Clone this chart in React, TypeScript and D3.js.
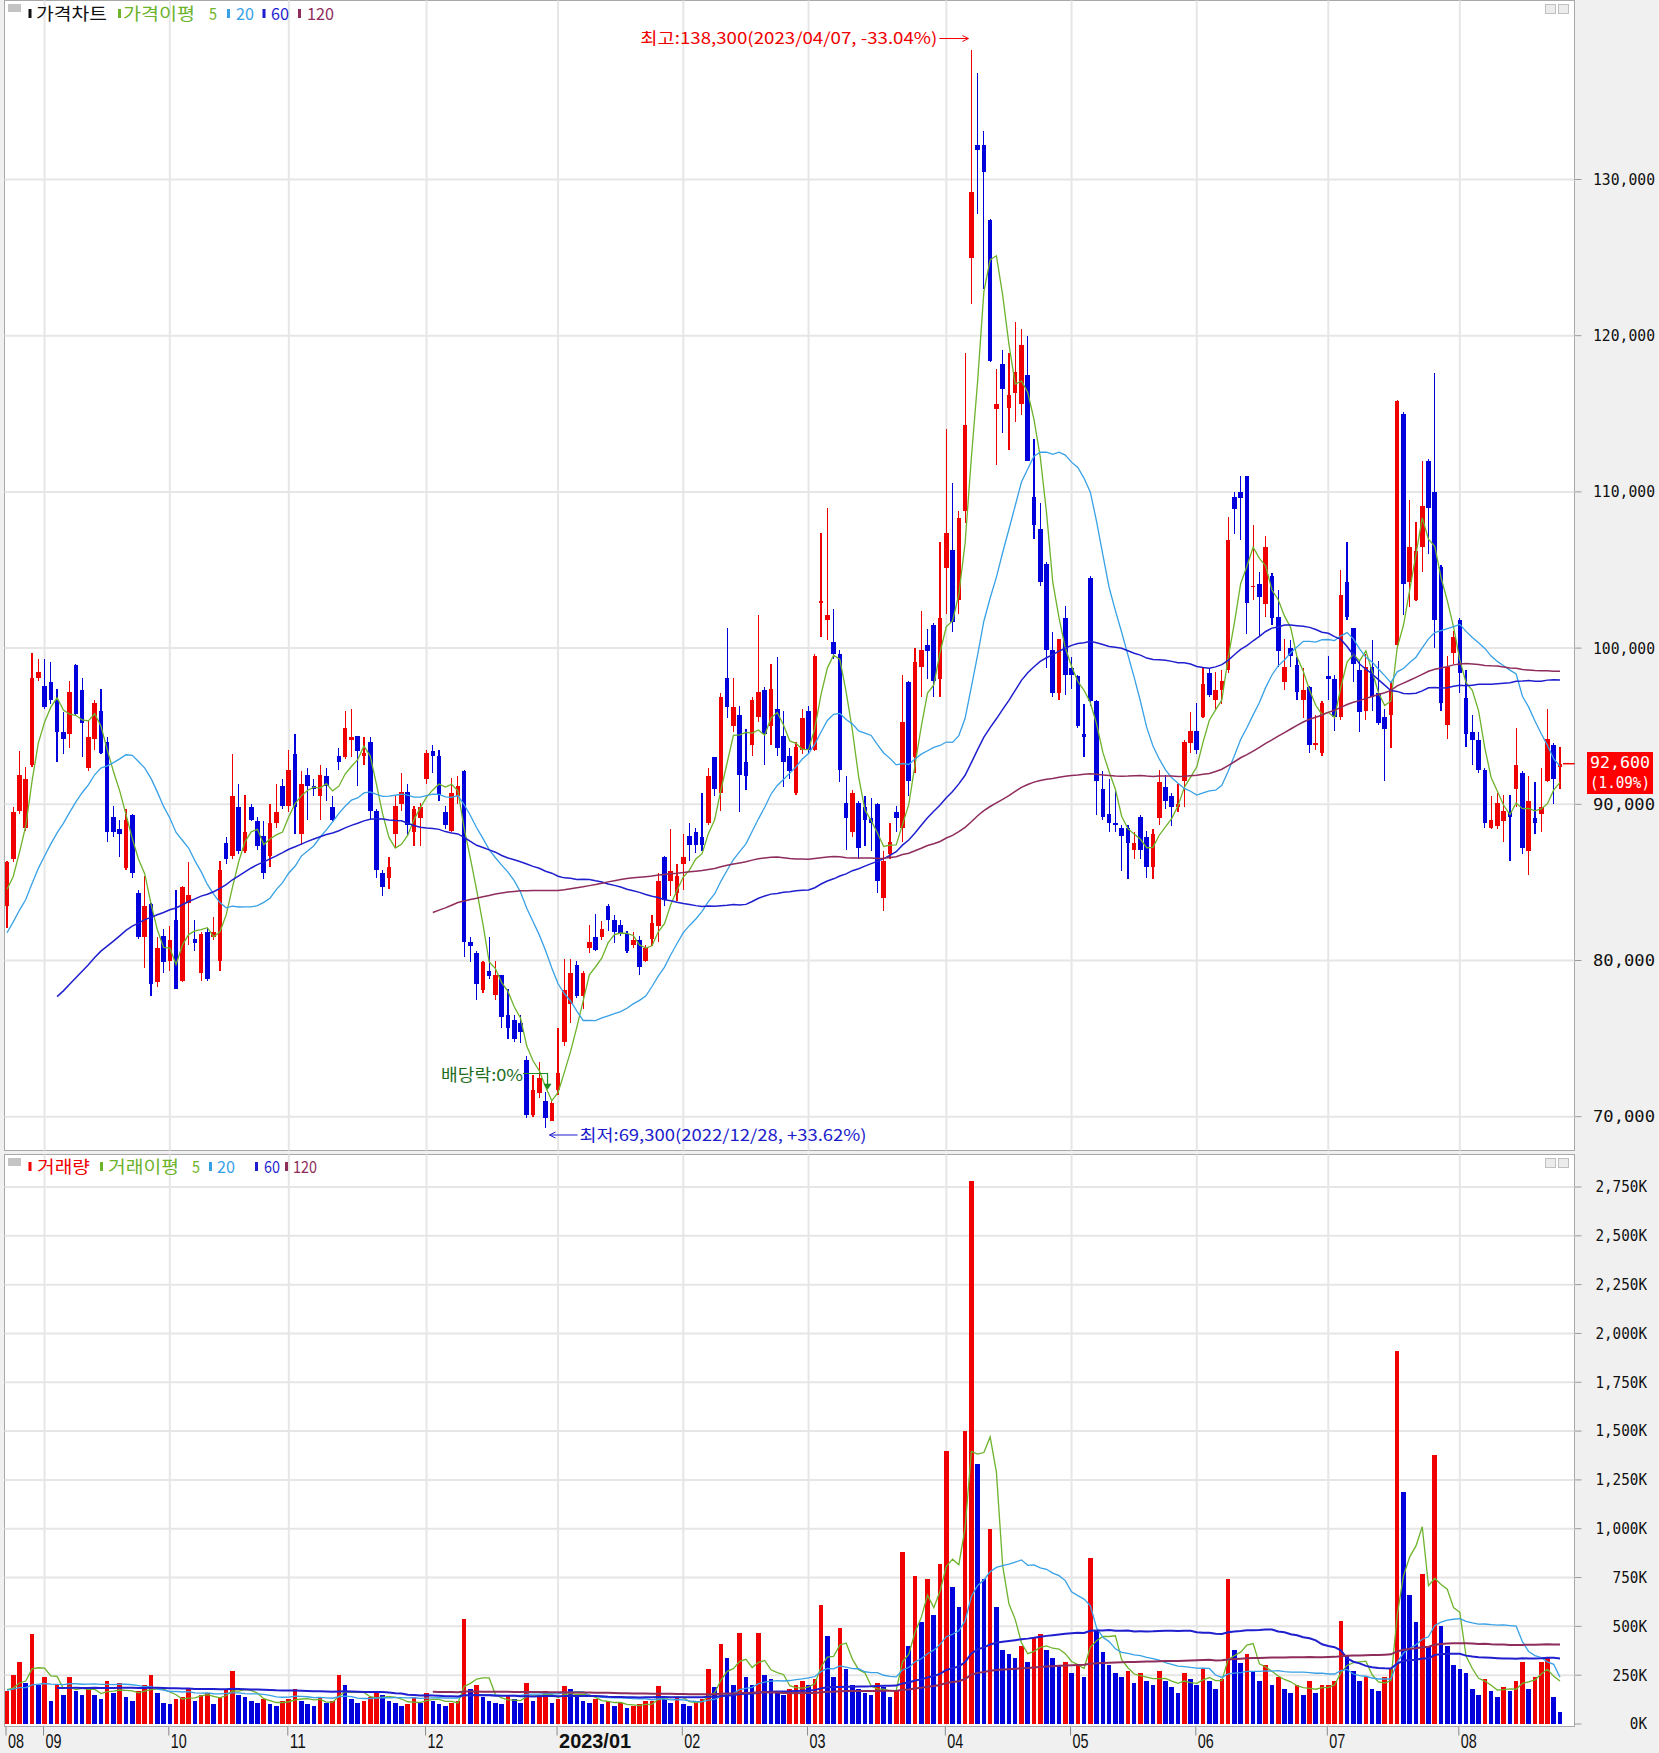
import React from 'react';
import * as d3 from 'd3';

// ---------------- DATA ----------------
// closes of the 51 sessions before the visible window (needed for MA60 / MA120)
const priorCloses = [
  72000, 71500, 70800, 70200, 69500, 69000, 68700, 69200, 68500, 67900, 68300, 69000, 69800, 70300, 69900, 70500,
  71200, 70800, 71500, 72200, 71800, 71300, 70900, 71600, 72300, 72800, 72100, 71700, 72400, 73000, 73600, 74200,
  75500, 76800, 78200, 77600, 79000, 80400, 81200, 80500, 82000, 83100, 82400, 83500, 84200, 83600, 84800, 85300,
  84100, 83200, 83800,
];
const priorVolumes = [
  150, 180, 130, 210, 160, 140, 190, 220, 170, 130, 150, 120, 200, 240, 180, 160, 140, 190, 170, 150, 210, 260, 180,
  150, 130, 170, 160, 140, 200, 230, 190, 160, 150, 180, 210, 170, 140, 160, 190, 220, 180, 150, 170, 200, 160, 140,
  180, 210, 190, 160, 150,
];

// [open, high, low, close]
const aug22 = [
  [83500, 86400, 82100, 86300], [86500, 89800, 86300, 89500], [89600, 93400, 89400, 91900], [88500, 92400, 88300, 91600],
  [92500, 99700, 92400, 98100], [98100, 99300, 97900, 98500],
];
const sep22 = [
  [97600, 99300, 96100, 96200], [97800, 99100, 96400, 96700], [96700, 97400, 92700, 94600], [94600, 95900, 93200, 94200],
  [94500, 97900, 93600, 97200], [98900, 99000, 95700, 95800], [97300, 98100, 93000, 95200], [92300, 95400, 92100, 94300],
  [94200, 96700, 93500, 96500], [96000, 97400, 93200, 93300], [94000, 94300, 87600, 88200], [89200, 89900, 87900, 88200],
  [88400, 89000, 86600, 88100], [85900, 89700, 85800, 89000], [89300, 89400, 85300, 85600], [84300, 84500, 81400, 81500],
  [81500, 85400, 79500, 83500], [83600, 83700, 77700, 78500], [78600, 81500, 78300, 80800], [81600, 82000, 79200, 79900],
];
const oct22 = [
  [80000, 82200, 79300, 81300], [82600, 84500, 78200, 78200], [78700, 84800, 78600, 84700], [83700, 86300, 81000, 84200],
  [81400, 82600, 80600, 81100], [79200, 81800, 78700, 81700], [81800, 82100, 78700, 78800], [81500, 82800, 81300, 81800],
  [80000, 86400, 79300, 85800], [87500, 87900, 86200, 86500], [86700, 93200, 86500, 90500], [89800, 91300, 86800, 87000],
  [87000, 90600, 86900, 88200], [89800, 90000, 88900, 89000], [88900, 89200, 87100, 87300], [88000, 88900, 85200, 85600],
  [86700, 90000, 86000, 88800], [88800, 91300, 88500, 89500], [91200, 91600, 89700, 89900],
];
const nov22 = [
  [89900, 93500, 89500, 92200], [93200, 94500, 88100, 89800], [88100, 92100, 87400, 91300], [91900, 92300, 89000, 91200],
  [91200, 91600, 90500, 91000], [90500, 92500, 89000, 91900], [91800, 92300, 90200, 91200], [89800, 90500, 88900, 89000],
  [93100, 93600, 92200, 92700], [93000, 96000, 92900, 94900], [94100, 96100, 93000, 94300], [94400, 94400, 91200, 93400],
  [93100, 94300, 92500, 93300], [94000, 94300, 89000, 89600], [89600, 89700, 85300, 85800], [85600, 85800, 84100, 84700],
  [85300, 86600, 84600, 86000], [88100, 90500, 87200, 89900], [90000, 92000, 89600, 90800], [90800, 91300, 88000, 88700],
  [88200, 89900, 87300, 89700], [89100, 90100, 87300, 89800],
];
const dec22 = [
  [91600, 93500, 91300, 93300], [93400, 93800, 92000, 93100], [93100, 93500, 90200, 90600], [89500, 89900, 88400, 88700],
  [88300, 91700, 88200, 90700], [90500, 91800, 90000, 91200], [92100, 92200, 80200, 81200], [81200, 81500, 79900, 80900],
  [80500, 80600, 77500, 78500], [78100, 80000, 77900, 79900], [79300, 81500, 78800, 79000], [77800, 80000, 77500, 79100],
  [79100, 79100, 75700, 76400], [76500, 78200, 75000, 75700], [76200, 76500, 74800, 75000], [76000, 76500, 74700, 75400],
  [73600, 73900, 69900, 70100], [70100, 72700, 70000, 71700], [71500, 73500, 71200, 72500], [71000, 71600, 69300, 69900],
  [69700, 71000, 69700, 70900],
];
const jan23 = [
  [71700, 75700, 71400, 72800], [74800, 80100, 74500, 78100], [77200, 80100, 76000, 79200], [79700, 80000, 77600, 77700],
  [77700, 79300, 76900, 79200], [80800, 82300, 80500, 81200], [81500, 83000, 80600, 80700], [81500, 82500, 81300, 82000],
  [83500, 83600, 81900, 82600], [82600, 82900, 81100, 81800], [82300, 82600, 81600, 81700], [81700, 81900, 80500, 80600],
  [81000, 81800, 80800, 81300], [81300, 81600, 79100, 79600], [80000, 81000, 79900, 80800], [81400, 82900, 80900, 82400],
  [82200, 85600, 81200, 85100], [86600, 86700, 83500, 83900], [85100, 88400, 84100, 85700], [84300, 86200, 83800, 85400],
];
const feb23 = [
  [86200, 88100, 84500, 86600], [88000, 88800, 86400, 87400], [88200, 88500, 86900, 87400], [87900, 90700, 87000, 87400],
  [88800, 92300, 88700, 91800], [93000, 93000, 90500, 91000], [90700, 97100, 89600, 96900], [98100, 101300, 95500, 96200],
  [95000, 98100, 94600, 96200], [95700, 96300, 89500, 91900], [92700, 94800, 90900, 91800], [93800, 96900, 93100, 96700],
  [95600, 102100, 95300, 97200], [97300, 97500, 92500, 94500], [95000, 99000, 93800, 97400], [96100, 99400, 93100, 93600],
  [94400, 96000, 91100, 92700], [93100, 93600, 91600, 92100], [90700, 94000, 90600, 93700], [93500, 96100, 93200, 95500],
];
const mar23 = [
  [96000, 96300, 93300, 93500], [93500, 99600, 93400, 99500], [102900, 107400, 100700, 103000], [101800, 109000, 100500, 102100],
  [100400, 102500, 99300, 99600], [99600, 99900, 91400, 92200], [90100, 91800, 87100, 89100], [88200, 90900, 87900, 90700],
  [90100, 90200, 86500, 87200], [89800, 90500, 87300, 89000], [89100, 90400, 87000, 88800], [90000, 90100, 84300, 85100],
  [84000, 87000, 83200, 86400], [86800, 88800, 86500, 87600], [89500, 89900, 88200, 89100], [88500, 98300, 87600, 95300],
  [97800, 97900, 90500, 91500], [93000, 100000, 92000, 99100], [98800, 102400, 96900, 99900], [100200, 101200, 98000, 99800],
  [101500, 101600, 96900, 97900], [98000, 106800, 96900, 101900],
];
const apr23 = [
  [105100, 114000, 102200, 107400], [106300, 110600, 101000, 101700], [103100, 108800, 102200, 108300], [108800, 118900, 108000, 114300],
  [125000, 138300, 122000, 129200], [132200, 136800, 127800, 131900], [132200, 133100, 123000, 130500], [127400, 127500, 118300, 118400],
  [115300, 117900, 111700, 115600], [118200, 119100, 113800, 116600], [115400, 118900, 112700, 116200], [116300, 120900, 114500, 117700],
  [115600, 120400, 114900, 119400], [117500, 120000, 112000, 112000], [109700, 113400, 107000, 107900], [107600, 109300, 104000, 104200],
  [105400, 105500, 98700, 99900], [99900, 101000, 96900, 97100], [97100, 100600, 96700, 100600], [101900, 102700, 97000, 98300],
];
const may23 = [
  [98700, 99400, 97400, 98300], [98200, 98300, 94900, 95000], [94500, 96400, 93000, 94300], [104500, 104600, 96300, 96600],
  [96600, 96700, 89300, 91500], [91000, 92100, 89000, 89200], [89400, 91600, 88200, 88800], [88800, 91000, 88200, 88700],
  [88500, 88700, 85700, 88000], [88500, 88700, 85200, 87500], [87100, 88200, 86500, 87500], [89200, 89300, 86500, 87100],
  [87900, 88300, 85300, 86000], [86000, 88400, 85200, 88100], [89100, 92200, 88700, 91400], [91100, 91900, 89700, 90200],
  [90500, 90700, 88600, 89800], [89800, 91300, 89500, 90000], [91500, 94100, 89800, 94000], [93900, 95900, 93300, 94700],
];
const jun23 = [
  [94700, 96500, 93200, 93500], [95600, 98700, 95500, 97700], [98400, 98700, 96900, 97000], [96700, 98500, 96000, 97300],
  [97300, 98600, 96400, 97900], [98600, 108400, 98400, 106900], [109700, 110000, 107300, 108900], [110000, 111000, 106900, 109600],
  [111000, 111000, 100900, 102900], [103900, 107900, 103100, 104000], [104100, 104900, 100800, 103300], [102800, 107200, 102000, 106500],
  [104600, 104800, 101500, 101900], [102000, 103700, 98800, 99800], [97800, 100600, 97300, 98800], [100000, 100500, 98800, 99500],
  [98900, 99400, 96700, 97200], [96700, 98700, 95500, 97300], [97500, 97600, 93300, 93800], [93800, 95700, 93500, 93900],
  [93300, 96600, 93100, 96500],
];
const jul23 = [
  [98200, 99500, 96700, 98000], [98000, 98300, 94700, 95600], [95600, 105000, 95400, 103400], [104200, 106800, 101800, 102000],
  [101300, 101300, 97800, 99000], [98600, 99200, 94600, 95900], [96000, 99600, 95400, 98800], [98800, 100500, 96000, 96900],
  [97100, 99200, 95100, 95200], [95600, 96100, 91500, 94800], [95700, 97800, 93600, 97400], [100200, 115900, 100100, 115800],
  [115000, 115100, 102100, 104100], [104200, 109500, 102600, 106500], [103100, 108100, 103000, 106200], [106500, 112000, 104900, 109100],
  [112000, 112100, 106000, 109000], [110000, 117600, 100000, 101800], [105200, 105300, 96000, 96500], [95100, 99500, 94200, 98800],
  [99700, 101100, 99000, 100700],
];
const aug23 = [
  [101800, 101900, 97100, 98400], [96800, 98600, 93700, 94500], [94600, 95700, 92500, 94100], [94100, 94600, 92000, 92200],
  [92200, 92300, 88500, 88800], [88500, 90500, 88400, 89000], [88600, 90700, 88400, 90100], [88900, 90600, 87600, 89600],
  [89500, 90600, 86400, 89200], [91000, 94900, 89800, 92500], [92000, 92100, 86800, 87200], [87000, 91800, 85500, 90200],
  [89100, 91400, 88100, 88800], [89400, 92300, 88200, 89800], [91500, 96100, 91400, 94200], [93800, 93900, 90000, 91600],
  [92400, 93700, 91000, 92600],
];

// volume, thousands of shares
const volAug22 = [170, 250, 320, 210, 460, 200];
const volSep22 = [240, 120, 200, 150, 240, 170, 150, 180, 150, 130, 220, 160, 210, 140, 120, 170, 200, 250, 160, 110];
const volOct22 = [100, 130, 140, 180, 120, 150, 160, 100, 140, 180, 270, 150, 140, 120, 110, 130, 100, 90, 120];
const volNov22 = [130, 180, 120, 100, 90, 140, 110, 120, 250, 200, 130, 110, 120, 140, 170, 150, 120, 110, 90, 100, 140, 110];
const volDec22 = [160, 120, 100, 90, 110, 120, 540, 180, 200, 140, 120, 110, 100, 150, 130, 110, 210, 120, 150, 170, 110];
const volJan23 = [130, 195, 180, 140, 120, 110, 130, 100, 120, 90, 110, 80, 90, 100, 120, 120, 195, 130, 110, 140];
const volFeb23 = [100, 90, 110, 130, 280, 190, 410, 337, 200, 468, 240, 200, 468, 250, 230, 170, 150, 180, 200, 220];
const volMar23 = [200, 230, 611, 451, 240, 491, 280, 200, 180, 160, 150, 210, 190, 140, 170, 880, 400, 760, 520, 740, 560, 820];
const volApr23 = [1400, 700, 600, 1500, 2780, 1330, 740, 1000, 600, 380, 360, 340, 400, 320, 440, 460, 380, 340, 300, 320];
const volMay23 = [260, 300, 240, 850, 480, 370, 300, 260, 240, 270, 210, 260, 220, 200, 270, 220, 190, 160, 260, 230];
const volJun23 = [200, 280, 220, 180, 230, 740, 380, 310, 360, 270, 220, 300, 200, 240, 180, 160, 200, 150, 220, 160, 200];
const volJul23 = [200, 220, 530, 350, 270, 220, 240, 180, 170, 240, 280, 1910, 1190, 660, 520, 770, 400, 1380, 500, 400, 300];
const volAug23 = [280, 260, 180, 150, 230, 170, 140, 190, 170, 220, 320, 180, 240, 320, 340, 140, 60];

const monthLabels = ['08', '09', '10', '11', '12', '2023/01', '02', '03', '04', '05', '06', '07', '08'];
const priceTicks = [70000, 80000, 90000, 100000, 110000, 120000, 130000];
const volumeTicks = [0, 250, 500, 750, 1000, 1250, 1500, 1750, 2000, 2250, 2500, 2750];
const maPeriods = [5, 20, 60, 120];
const maColors = ['#6db32b', '#38a1e6', '#1f1fcf', '#8e2c5c'];

// ---------------- HELPERS ----------------
const months = [aug22, sep22, oct22, nov22, dec22, jan23, feb23, mar23, apr23, may23, jun23, jul23, aug23];
const candles = months.flat();
const volumes = [volAug22, volSep22, volOct22, volNov22, volDec22, volJan23, volFeb23, volMar23, volApr23, volMay23, volJun23, volJul23, volAug23].flat();
const monthStarts: number[] = [];
{
  let s = 0;
  months.forEach((m) => { monthStarts.push(s); s += m.length; });
}

function sma(all: number[], n: number, offset: number, count: number): (number | null)[] {
  const out: (number | null)[] = [];
  for (let i = 0; i < count; i++) {
    const end = offset + i;
    if (end + 1 < n) { out.push(null); continue; }
    let s = 0;
    for (let k = end - n + 1; k <= end; k++) s += all[k];
    out.push(s / n);
  }
  return out;
}

const RED = '#f00000';
const BLUE = '#0000dc';
const MONO = '"DejaVu Sans Mono", monospace';
const KR = '"Noto Sans CJK KR", "Noto Sans", sans-serif';

function T(props: any) {
  const { w, children, ...rest } = props;
  return <text {...rest} textLength={w} lengthAdjust="spacingAndGlyphs">{children}</text>;
}

export default function App() {
  const N = candles.length;
  const W = 1659, H = 1753;
  const plotL = 4.5, plotR = 1574.5;
  const pTop = 0.5, pBot = 1150.5;
  const vTop = 1154.5, vBot = 1726.5;

  const x = d3.scaleLinear().domain([0, N - 1]).range([7, 1560]);
  const y = d3.scaleLinear().domain([70000, 130000]).range([1116.7, 179.5]);
  const yv = d3.scaleLinear().domain([0, 2750]).range([1724, 1187]);

  const closes = candles.map((c) => c[3]);
  const allCloses = [...priorCloses, ...closes];
  const allVols = [...priorVolumes, ...volumes];
  const priceMAs = maPeriods.map((p) => sma(allCloses, p, priorCloses.length, N));
  const volMAs = maPeriods.map((p) => sma(allVols, p, priorVolumes.length, N));

  const lineP = d3.line<number | null>().defined((d) => d != null).x((_, i) => x(i)).y((d) => y(d as number));
  const lineV = d3.line<number | null>().defined((d) => d != null).x((_, i) => x(i)).y((d) => yv(d as number));

  let hiI = 0, loI = 0;
  candles.forEach((c, i) => {
    if (c[1] > candles[hiI][1]) hiI = i;
    if (c[2] < candles[loI][2]) loI = i;
  });
  const last = candles[N - 1];
  const prevClose = candles[N - 2][3];
  const chg = ((last[3] / prevClose - 1) * 100).toFixed(2);
  const hiPct = ((last[3] / candles[hiI][1] - 1) * 100).toFixed(2);
  const loPct = ((last[3] / candles[loI][2] - 1) * 100).toFixed(2);
  const fmt = d3.format(',');

  const bodyW = 4.6;
  const exDivI = monthStarts[5] - 2; // 2022/12/28

  const grid = '#e6e6e6';
  const border = '#a8a8a8';
  const fsL = 17;

  return (
    <div style={{ position: 'absolute', left: 0, top: 0, width: W, height: H }}>
      <svg width={W} height={H} style={{ display: 'block' }}>
        <rect x={0} y={0} width={W} height={H} fill="#f0f0f0" />
        <rect x={plotL} y={pTop} width={plotR - plotL} height={pBot - pTop} fill="#fff" stroke={border} />
        <rect x={plotL} y={vTop} width={plotR - plotL} height={vBot - vTop} fill="#fff" stroke={border} />

        {priceTicks.map((t) => (
          <line key={'pg' + t} x1={plotL} x2={plotR} y1={y(t)} y2={y(t)} stroke={grid} strokeWidth={2} />
        ))}
        {volumeTicks.filter((t) => t > 0).map((t) => (
          <line key={'vg' + t} x1={plotL} x2={plotR} y1={yv(t)} y2={yv(t)} stroke={grid} strokeWidth={2} />
        ))}
        {monthStarts.slice(1).map((s) => (
          <g key={'mg' + s}>
            <line x1={x(s)} x2={x(s)} y1={pTop} y2={pBot} stroke={grid} strokeWidth={2} />
            <line x1={x(s)} x2={x(s)} y1={vTop} y2={vBot} stroke={grid} strokeWidth={2} />
          </g>
        ))}

        <g shapeRendering="crispEdges">
          {candles.map((c, i) => {
            const [o, h, l, cl] = c;
            const up = cl >= o;
            const col = up ? RED : BLUE;
            const top = y(Math.max(o, cl));
            const bh = Math.max(1, Math.abs(y(o) - y(cl)));
            const cx = x(i);
            return (
              <g key={'c' + i}>
                <line x1={cx} x2={cx} y1={y(h)} y2={y(l)} stroke={col} strokeWidth={1.2} />
                <rect x={cx - bodyW / 2} y={top} width={bodyW} height={bh} fill={col} />
              </g>
            );
          })}
        </g>

        {priceMAs.map((ma, k) => (
          <path key={'pma' + k} d={lineP(ma) || ''} fill="none" stroke={maColors[k]} strokeWidth={k >= 2 ? 1.5 : 1.3} />
        ))}

        <g shapeRendering="crispEdges">
          {volumes.map((v, i) => {
            const prev = i === 0 ? priorVolumes[priorVolumes.length - 1] : volumes[i - 1];
            const col = v >= prev ? RED : BLUE;
            return <rect key={'v' + i} x={x(i) - bodyW / 2} y={yv(v)} width={bodyW} height={yv(0) - yv(v)} fill={col} />;
          })}
        </g>
        {volMAs.map((ma, k) => (
          <path key={'vma' + k} d={lineV(ma) || ''} fill="none" stroke={maColors[k]} strokeWidth={k >= 2 ? 2 : 1.3} />
        ))}

        {priceTicks.map((t) => (
          <g key={'pt' + t}>
            <line x1={plotR} x2={plotR + 7} y1={y(t)} y2={y(t)} stroke="#9a9a9a" />
            <T x={1655} y={y(t)} dy="0.36em" textAnchor="end" fontFamily={MONO} fontSize={15} fill="#111" w={62}>{fmt(t)}</T>
          </g>
        ))}
        <line x1={1563} x2={plotR} y1={y(last[3])} y2={y(last[3])} stroke={RED} strokeWidth={1.5} />
        <rect x={1587} y={752} width={66} height={42} fill="#ff0000" />
        <T x={1620} y={768} textAnchor="middle" fontFamily={MONO} fontSize={15} fill="#fff" w={60}>{fmt(last[3])}</T>
        <T x={1620} y={788} textAnchor="middle" fontFamily={MONO} fontSize={15} fill="#fff" w={60}>{`(${chg}%)`}</T>

        {volumeTicks.map((t) => (
          <g key={'vt' + t}>
            <line x1={plotR} x2={plotR + 7} y1={yv(t)} y2={yv(t)} stroke="#9a9a9a" />
            <T x={1647} y={yv(t)} dy="0.36em" textAnchor="end" fontFamily={MONO} fontSize={15} fill="#111"
              w={(fmt(t) + 'K').length * 8.6}>{fmt(t) + 'K'}</T>
          </g>
        ))}

        {monthStarts.map((s, k) => (
          <g key={'bt' + k}>
            <line x1={x(s) - 1} x2={x(s) - 1} y1={vBot} y2={vBot + 9} stroke="#8a8a8a" />
            <T x={x(s) + 1} y={1748} fontFamily={'"Liberation Sans Narrow", "Liberation Sans", sans-serif'} fontSize={21}
              fontWeight={k === 5 ? 700 : 400} fill="#111" w={k === 5 ? 72 : 16}>{monthLabels[k]}</T>
          </g>
        ))}

        {[0, 1154].map((oy) => (
          <g key={'dec' + oy}>
            <rect x={8} y={oy + 4} width={13} height={8} fill="#c4c4c4" />
            <rect x={1545.5} y={oy + 4.5} width={10} height={9} fill="#ececec" stroke="#c0c0c0" />
            <rect x={1558.5} y={oy + 4.5} width={10} height={9} fill="#ececec" stroke="#c0c0c0" />
          </g>
        ))}

        {/* price legend */}
        <g fontFamily={KR} fontSize={fsL}>
          <rect x={28.5} y={9} width={3} height={9} fill="#111" />
          <T x={36} y={20} fill="#111" w={71}>가격차트</T>
          <rect x={118} y={9} width={3} height={9} fill={maColors[0]} />
          <T x={123} y={20} fill={maColors[0]} w={72}>가격이평</T>
          <T x={209} y={20} fill={maColors[0]} w={8}>5</T>
          <rect x={227} y={9} width={3} height={9} fill={maColors[1]} />
          <T x={236} y={20} fill={maColors[1]} w={18}>20</T>
          <rect x={262.5} y={9} width={3} height={9} fill={maColors[2]} />
          <T x={271} y={20} fill={maColors[2]} w={18}>60</T>
          <rect x={298} y={9} width={3} height={9} fill={maColors[3]} />
          <T x={307} y={20} fill={maColors[3]} w={27}>120</T>
        </g>
        {/* volume legend */}
        <g fontFamily={KR} fontSize={fsL}>
          <rect x={28.5} y={1162} width={3} height={9} fill={RED} />
          <T x={37} y={1173} fill={RED} w={53}>거래량</T>
          <rect x={100} y={1162} width={3} height={9} fill={maColors[0]} />
          <T x={108} y={1173} fill={maColors[0]} w={71}>거래이평</T>
          <T x={192} y={1173} fill={maColors[0]} w={8}>5</T>
          <rect x={209} y={1162} width={3} height={9} fill={maColors[1]} />
          <T x={217} y={1173} fill={maColors[1]} w={18}>20</T>
          <rect x={255} y={1162} width={3} height={9} fill={maColors[2]} />
          <T x={264} y={1173} fill={maColors[2]} w={16}>60</T>
          <rect x={285} y={1162} width={3} height={9} fill={maColors[3]} />
          <T x={293} y={1173} fill={maColors[3]} w={24}>120</T>
        </g>

        {/* high annotation */}
        <g>
          <T x={x(hiI) - 34} y={44} textAnchor="end" fontFamily={KR} fontSize={16} fill={RED} w={297}>
            {`최고:${fmt(candles[hiI][1])}(2023/04/07, ${hiPct}%)`}
          </T>
          <line x1={x(hiI) - 32} x2={x(hiI) - 3} y1={38.5} y2={38.5} stroke={RED} strokeWidth={1} />
          <path d={`M${x(hiI) - 3},38.5 l-6,-3 M${x(hiI) - 3},38.5 l-6,3`} stroke={RED} fill="none" />
        </g>
        {/* low annotation */}
        <g>
          <line x1={x(loI) + 4} x2={x(loI) + 32} y1={1135} y2={1135} stroke="#1c1ccc" strokeWidth={1} />
          <path d={`M${x(loI) + 4},1135 l6,-3 M${x(loI) + 4},1135 l6,3`} stroke="#1c1ccc" fill="none" />
          <T x={x(loI) + 34} y={1141} fontFamily={KR} fontSize={16} fill="#1c1ccc" w={287}>
            {`최저:${fmt(candles[loI][2])}(2022/12/28, +${loPct}%)`}
          </T>
        </g>
        {/* ex-dividend annotation */}
        <g>
          <T x={441} y={1081} fontFamily={KR} fontSize={16.5} fill="#1f6e1f" w={82}>배당락:0%</T>
          <path d={`M523,1073.5 H${x(exDivI) + 2} V${y(candles[exDivI][1]) - 3}`} stroke="#1f8a1f" fill="none" strokeWidth={1.2} />
          <path d={`M${x(exDivI) + 2 - 4},${y(candles[exDivI][1]) - 8} l4,6 l4,-6 z`} fill="#1f8a1f" />
        </g>
      </svg>
    </div>
  );
}
